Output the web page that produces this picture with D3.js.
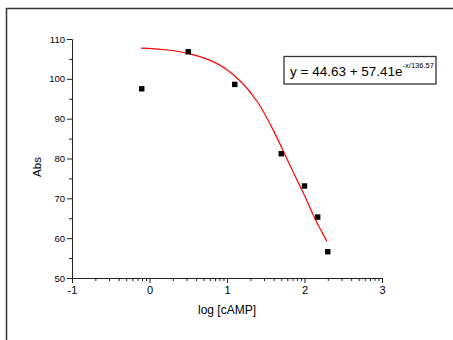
<!DOCTYPE html>
<html><head><meta charset="utf-8">
<script src="https://cdn.jsdelivr.net/npm/d3@7"></script>
<style>body{margin:0;background:#fff}svg{display:block}text{font-family:"Liberation Sans",Arial,sans-serif;fill:#000}</style>
</head><body>
<svg id="c" width="453" height="340"></svg>
<script>
// data
const logConc = [-0.1, 0.5, 1.1, 1.7, 2.0, 2.17, 2.3];
const absValues = [97.5, 106.8, 98.6, 81.2, 73.1, 65.3, 56.6];
const fitX = [-0.11, 0.2, 0.5, 0.8, 1.0, 1.2, 1.4, 1.6, 1.8, 2.0, 2.15, 2.29];
const fitY = [107.7, 107.3, 106.4, 104.5, 102.3, 98.9, 94.0, 87.0, 78.8, 70.7, 64.3, 59.2];
const xTicks = [-1, 0, 1, 2, 3];
const yTicks = [50, 60, 70, 80, 90, 100, 110];
const xTitle = "log [cAMP]";
const yTitle = "Abs";
const eqMain = "y = 44.63 + 57.41e";
const eqSup = "-x/136.57";

const svg = d3.select("#c");
// outer frame
svg.append("rect").attr("x", 6.5).attr("y", 8.5).attr("width", 460).attr("height", 340)
  .attr("fill", "none").attr("stroke", "#333").attr("stroke-width", 1.5);

const x = d3.scaleLinear().domain([-1, 3]).range([72, 382]);
const y = d3.scaleLinear().domain([50, 110]).range([278, 39]);

// minor ticks
const xMinor = [];
for (let n = -1; n < 3; n++) for (let k = 2; k <= 9; k++) xMinor.push(n + Math.log10(k));
const yMinor = d3.range(55, 110, 10);

const gx = svg.append("g").attr("transform", "translate(0,278)");
gx.call(d3.axisBottom(x).tickValues(xTicks).tickSize(5).tickPadding(3).tickFormat(d => String(d)));
gx.selectAll("text").attr("font-size", 11).attr("font-family", "Liberation Sans, Arial, sans-serif").attr("fill", "#000");
gx.append("g").call(d3.axisBottom(x).tickValues(xMinor).tickSize(3).tickFormat(""))
  .select(".domain").remove();

const gy = svg.append("g").attr("transform", "translate(72,0)");
gy.call(d3.axisLeft(y).tickValues(yTicks).tickSize(5).tickPadding(2));
gy.selectAll("text").attr("font-size", 9.5).attr("font-family", "Liberation Sans, Arial, sans-serif").attr("fill", "#000");
gy.append("g").call(d3.axisLeft(y).tickValues(yMinor).tickSize(3).tickFormat(""))
  .select(".domain").remove();
svg.selectAll(".domain, .tick line").attr("stroke", "#222");

// titles
svg.append("text").attr("x", 227).attr("y", 314).attr("text-anchor", "middle").attr("font-size", 12).text(xTitle);
svg.append("text").attr("transform", "translate(41,167) rotate(-90)").attr("text-anchor", "middle").attr("font-size", 11.5).text(yTitle);

// fit curve
const fit = fitX.map((d, i) => [d, fitY[i]]);
svg.append("path").datum(fit)
  .attr("d", d3.line().x(d => x(d[0])).y(d => y(d[1])).curve(d3.curveCatmullRom))
  .attr("fill", "none").attr("stroke", "#f00").attr("stroke-width", 1.2);

// points
svg.selectAll("rect.pt").data(logConc.map((d, i) => [d, absValues[i]])).enter()
  .append("rect").attr("class", "pt")
  .attr("x", d => x(d[0]) - 2.7).attr("y", d => y(d[1]) - 2.7)
  .attr("width", 5.4).attr("height", 5.4).attr("fill", "#000");

// equation box
svg.append("rect").attr("x", 284).attr("y", 56.5).attr("width", 152).attr("height", 27.5)
  .attr("fill", "#fff").attr("stroke", "#333").attr("stroke-width", 1.3);
const eq = svg.append("text").attr("x", 290).attr("y", 76).attr("font-size", 13.5);
eq.append("tspan").text(eqMain);
eq.append("tspan").attr("dy", -8).attr("font-size", 7.5).text(eqSup);
</script>
</body></html>
